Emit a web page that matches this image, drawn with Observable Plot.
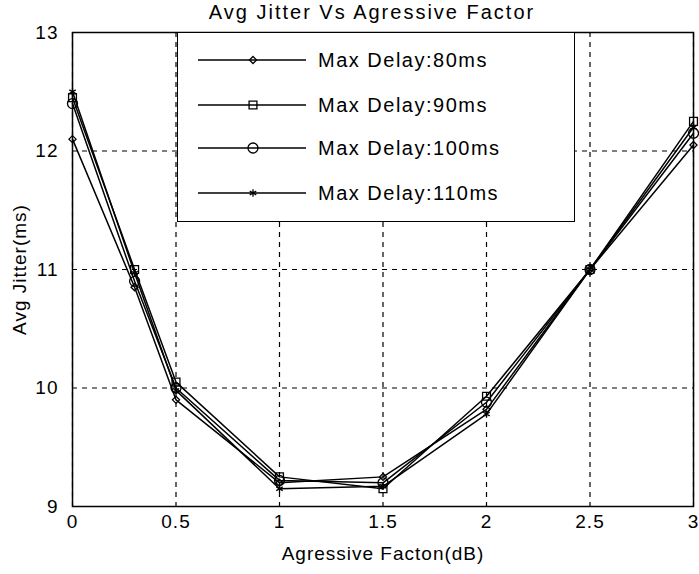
<!DOCTYPE html>
<html>
<head>
<meta charset="utf-8">
<script src="https://cdn.jsdelivr.net/npm/d3@7"></script>
<script src="https://cdn.jsdelivr.net/npm/@observablehq/plot@0.6"></script>
<style>
  html, body { margin: 0; padding: 0; background: white; }
  #wrap { position: relative; width: 699px; height: 574px; font-family: "Liberation Sans", Arial, sans-serif; }
  #title { position: absolute; left: 0; width: 744px; top: 1px; text-align: center; font-size: 20px; letter-spacing: 2px; color: black; }
  #legend { position: absolute; left: 177px; top: 32px; width: 398px; height: 190px; border: 1.5px solid black; background: white; box-sizing: border-box; }
  .row { position: absolute; left: 0; height: 20px; display: flex; align-items: center; }
  .row span { font-size: 20px; letter-spacing: 1.5px; margin-left: 10px; white-space: nowrap; }
  svg text { letter-spacing: 1px; }
</style>
</head>
<body>
<div id="wrap">
  <div id="chart"></div>
  <div id="title"></div>
  <div id="legend"></div>
</div>
<script>
const titleText = "Avg Jitter Vs Agressive Factor";
const xLabel = "Agressive Facton(dB)";
const yLabel = "Avg Jitter(ms)";
const xTicks = [0, 0.5, 1, 1.5, 2, 2.5, 3];
const yTicks = [9, 10, 11, 12, 13];
const factors = [0, 0.3, 0.5, 1, 1.5, 2, 2.5, 3];
const seriesNames = ["Max Delay:80ms", "Max Delay:90ms", "Max Delay:100ms", "Max Delay:110ms"];
const delay80  = [12.10, 10.85, 9.90, 9.20, 9.25, 9.82, 11.00, 12.05];
const delay90  = [12.45, 11.00, 10.05, 9.25, 9.15, 9.93, 11.00, 12.25];
const delay100 = [12.40, 10.90, 10.00, 9.22, 9.20, 9.88, 11.00, 12.15];
const delay110 = [12.50, 10.97, 9.98, 9.15, 9.17, 9.78, 11.00, 12.20];
const seriesValues = [delay80, delay90, delay100, delay110];
const symbols = ["diamond2", "square2", "circle", "asterisk"];
const sizes = [3.2, 5, 5, 3.5];

document.getElementById("title").textContent = titleText;

const data = seriesNames.flatMap((name, i) =>
  factors.map((f, j) => ({series: name, x: f, y: seriesValues[i][j]})));

const marks = [
  Plot.gridX(xTicks, {stroke: "black", strokeOpacity: 1, strokeDasharray: "5,5", strokeWidth: 1.2}),
  Plot.gridY(yTicks, {stroke: "black", strokeOpacity: 1, strokeDasharray: "5,5", strokeWidth: 1.2}),
  Plot.frame({stroke: "black", strokeWidth: 1.5}),
  Plot.line(data, {x: "x", y: "y", z: "series", stroke: "black", strokeWidth: 1.5})
];
seriesNames.forEach((name, i) => {
  marks.push(Plot.dot(data.filter(d => d.series === name), {
    x: "x", y: "y", symbol: () => symbols[i], r: sizes[i], stroke: "black", strokeWidth: 1.3, fill: "none"
  }));
});
marks.push(
  Plot.axisX(xTicks, {tickSize: 0, tickPadding: 8, tickFormat: d => String(d), label: xLabel, labelAnchor: "center", labelOffset: 53, labelArrow: "none"}),
  Plot.axisY(yTicks, {tickSize: 0, tickPadding: 14, tickFormat: d => String(d), label: yLabel, labelAnchor: "center", labelOffset: 60, labelArrow: "none"})
);

const chart = Plot.plot({
  width: 699, height: 574,
  marginLeft: 72, marginRight: 6, marginTop: 32, marginBottom: 68,
  x: {domain: [0, 3]},
  y: {domain: [9, 13]},
  symbol: {type: "identity"},
  style: {fontFamily: "Liberation Sans, Arial, sans-serif", fontSize: "19px", color: "black", background: "white"},
  marks
});
document.getElementById("chart").appendChild(chart);

// legend
const legend = document.getElementById("legend");
const rowTops = [17, 62, 105, 150];
seriesNames.forEach((name, i) => {
  const row = document.createElement("div");
  row.className = "row";
  row.style.top = rowTops[i] + "px";
  const svg = d3.create("svg").attr("width", 130).attr("height", 20);
  svg.append("line").attr("x1", 20).attr("x2", 128).attr("y1", 10).attr("y2", 10).attr("stroke", "black").attr("stroke-width", 1.5);
  const sym = {diamond2: d3.symbolDiamond2, square2: d3.symbolSquare2, circle: d3.symbolCircle, asterisk: d3.symbolAsterisk}[symbols[i]];
  svg.append("path").attr("transform", "translate(75,10)")
    .attr("d", d3.symbol(sym, Math.PI * sizes[i] * sizes[i])())
    .attr("fill", "none").attr("stroke", "black").attr("stroke-width", 1.3);
  row.appendChild(svg.node());
  const t = document.createElement("span");
  t.textContent = name;
  row.appendChild(t);
  legend.appendChild(row);
});
</script>
</body>
</html>
